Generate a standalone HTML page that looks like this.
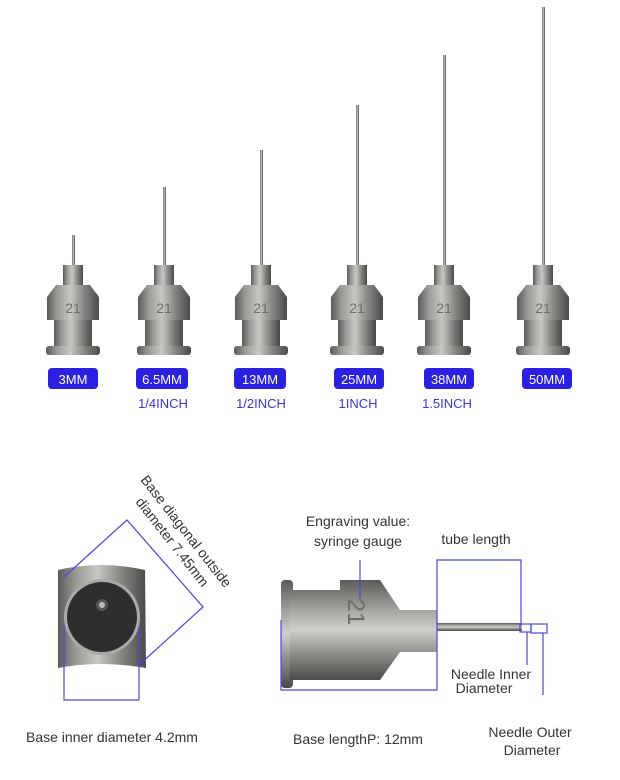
<!DOCTYPE html>
<html><head><meta charset="utf-8"><style>
html,body{margin:0;padding:0;background:#fff;}
svg{display:block;}
text{font-family:"Liberation Sans",sans-serif;}
</style></head><body>
<svg width="620" height="780" viewBox="0 0 620 780" xmlns="http://www.w3.org/2000/svg">
<defs>
<linearGradient id="m" x1="0" x2="1" y1="0" y2="0">
<stop offset="0" stop-color="#5a5a58"/><stop offset="0.2" stop-color="#9a9996"/><stop offset="0.45" stop-color="#c8c7c3"/><stop offset="0.7" stop-color="#8a8986"/><stop offset="1" stop-color="#4a4a48"/>
</linearGradient>
<linearGradient id="mv" x1="0" x2="0" y1="0" y2="1">
<stop offset="0" stop-color="#5a5a58"/><stop offset="0.3" stop-color="#a6a5a1"/><stop offset="0.5" stop-color="#cfcecb"/><stop offset="0.75" stop-color="#8a8986"/><stop offset="1" stop-color="#4a4a48"/>
</linearGradient>
<g id="hub">
<rect x="-10" y="265" width="20" height="20" fill="url(#m)"/>
<path d="M-17,285 L17,285 L26,297 L26,320 L-26,320 L-26,297 Z" fill="url(#m)"/>
<rect x="-19" y="320" width="38" height="27" fill="url(#m)"/>
<rect x="-27" y="346" width="54" height="9" rx="3" fill="url(#m)"/>
<text x="0" y="313" font-size="14" text-anchor="middle" fill="#6d6c69">21</text>
</g>
</defs>
<g fill="url(#m)">
<rect x="72" y="235" width="3" height="32"/>
<rect x="163" y="187" width="3" height="80"/>
<rect x="260" y="150" width="3" height="117"/>
<rect x="356" y="105" width="3" height="162"/>
<rect x="443" y="55" width="3" height="212"/>
<rect x="542" y="7" width="3" height="260"/>
</g>
<use href="#hub" x="73"/><use href="#hub" x="164"/><use href="#hub" x="261"/><use href="#hub" x="357"/><use href="#hub" x="444"/><use href="#hub" x="543"/>
<g fill="#2b1fe0">
<rect x="48" y="368" width="50" height="21" rx="4"/>
<rect x="136" y="368" width="52" height="21" rx="4"/>
<rect x="234" y="368" width="52" height="21" rx="4"/>
<rect x="334" y="368" width="50" height="21" rx="4"/>
<rect x="424" y="368" width="50" height="21" rx="4"/>
<rect x="522" y="368" width="50" height="21" rx="4"/>
</g>
<g fill="#fff" font-size="13" text-anchor="middle">
<text x="73" y="384">3MM</text><text x="162" y="384">6.5MM</text><text x="260" y="384">13MM</text><text x="359" y="384">25MM</text><text x="449" y="384">38MM</text><text x="547" y="384">50MM</text>
</g>
<g fill="#3a35d8" font-size="13" text-anchor="middle">
<text x="163" y="408">1/4INCH</text><text x="261" y="408">1/2INCH</text><text x="358" y="408">1INCH</text><text x="447" y="408">1.5INCH</text>
</g>
<path d="M58,570 Q100,560 145,570 L146,668 Q100,660 58,668 Z" fill="url(#m)"/>
<circle cx="102" cy="617" r="38" fill="#aaa"/>
<circle cx="102" cy="617" r="35" fill="#2e2e2e"/>
<circle cx="102" cy="605" r="6" fill="#555"/><circle cx="102" cy="605" r="3" fill="#bbb"/>
<g fill="none" stroke="#4a47e0" stroke-width="1.2">
<polyline points="64,577 127,520 203,607 139,665"/>
<polyline points="64,626 64,700 139,700 139,626"/>
</g>
<text transform="translate(140,480) rotate(52)" font-size="14" fill="#333">Base diagonal outside</text>
<text transform="translate(135,502) rotate(52)" font-size="14" fill="#333">diameter 7.45mm</text>
<text x="26" y="742" font-size="14" fill="#333">Base inner diameter 4.2mm</text>
<rect x="281" y="580" width="12" height="108" rx="4" fill="url(#mv)"/>
<path d="M290,590 L340,590 L340,580 L380,580 L400,610 L437,610 L437,652 L400,652 L380,680 L340,680 L290,680 Z" fill="url(#mv)"/>
<rect x="437" y="623" width="85" height="8" fill="url(#mv)"/>
<text transform="translate(348,612) rotate(90)" font-size="24" fill="#6d6c69" text-anchor="middle">21</text>
<g fill="none" stroke="#4a47e0" stroke-width="1.2">
<polyline points="281,620 281,690 437,690 437,560 521,560 521,625"/>
<rect x="520" y="624" width="11" height="8"/>
<rect x="531" y="624" width="16" height="9"/>
<line x1="527" y1="632" x2="527" y2="665"/>
<line x1="543" y1="633" x2="543" y2="695"/>
<line x1="360" y1="560" x2="360" y2="600"/>
</g>
<g font-size="14" fill="#333" text-anchor="middle">
<text x="358" y="526">Engraving value:</text>
<text x="358" y="546">syringe gauge</text>
<text x="476" y="544">tube length</text>
<text x="491" y="679">Needle Inner</text>
<text x="484" y="693">Diameter</text>
<text x="530" y="737">Needle Outer</text>
<text x="532" y="755">Diameter</text>
<text x="358" y="744">Base lengthP: 12mm</text>
</g>
</svg>
</body></html>
